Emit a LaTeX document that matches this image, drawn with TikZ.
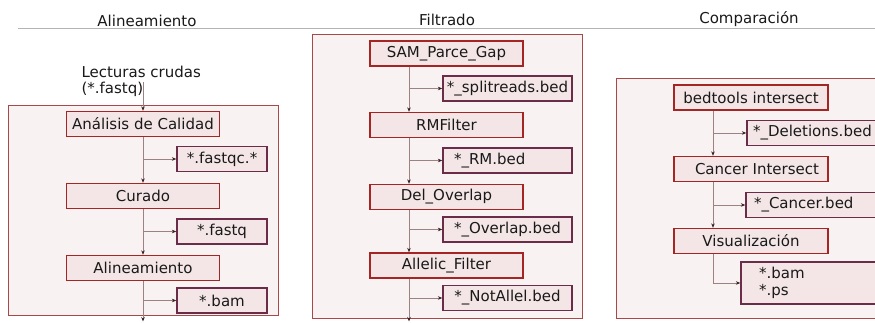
\documentclass[tikz,border=0pt]{standalone}
\usepackage{fontspec}
\setmainfont{DejaVu Sans}
\usetikzlibrary{arrows.meta}
\definecolor{panelfill}{HTML}{F8F2F2}
\definecolor{panelline}{HTML}{A84848}
\definecolor{procfill}{HTML}{F4E6E6}
\definecolor{procline}{HTML}{A52525}
\definecolor{outline}{HTML}{6B2C4A}
\definecolor{flowline}{HTML}{9C8282}
\definecolor{tipcol}{HTML}{3A2020}
\definecolor{rulecol}{HTML}{B4B4B4}
\tikzset{
  txt/.style={font=\fontsize{15}{16.5}\selectfont, text=black!90},
  panel/.style={draw=panelline, fill=panelfill, line width=0.9pt},
  procbox/.style={txt, draw=procline, fill=procfill, line width=1.3pt,
    minimum height=25pt, minimum width=153pt, inner sep=0pt},
  outbox/.style={txt, draw=outline, fill=procfill, line width=1.3pt,
    minimum height=25pt, inner sep=0pt},
  flow/.style={draw=flowline, line width=0.9pt,
    -{Stealth[length=4.5pt,width=3.5pt,color=tipcol]}},
}
\begin{document}
\begin{tikzpicture}[x=1pt,y=-1pt]
\useasboundingbox (0,0) rectangle (875,322);

% header rule and stage titles
\coordinate (ruleA) at (18,28.5);
\coordinate (ruleB) at (875,28.5);
\draw[rulecol, line width=1.6pt] (ruleA) -- (ruleB);
\node[txt, anchor=base] (tAli) at (147,26) {Alineamiento};
\node[txt, anchor=base] (tFil) at (447,25.5) {Filtrado};
\node[txt, anchor=base] (tCom) at (749,23.5) {Comparación};

% panels
\draw[panel] (8,105) rectangle (278,315);
\draw[panel] (312,34) rectangle (582,318);
\draw[panel] (616,78) rectangle (890,318);

% ---- Alineamiento ----
\coordinate (Lx) at (143,0);
\node[txt, anchor=base west, align=left] (raw) at (78,93.5) {Lecturas crudas\\\relax(*.fastq)};
\coordinate (rawout) at (143,82);
\node[procbox] (ana) at (143,124) {Análisis de Calidad};
\node[outbox, minimum width=90pt] (fqc) at (222,159) {*.fastqc.*};
\node[procbox] (cur) at (143,196) {Curado};
\node[outbox, minimum width=90pt] (fq) at (222,231.5) {*.fastq};
\node[procbox] (ali) at (143,268) {Alineamiento};
\node[outbox, minimum width=90pt] (bam) at (222,300.5) {*.bam};
\coordinate (Lend) at (143,321.5);

\draw[flow] (rawout) -- (ana.north);
\draw[flow] (ana.south) -- (cur.north);
\draw[flow] (cur.south) -- (ali.north);
\draw[flow] (ali.south) -- (Lend);
\draw[flow] (fqc.west -| Lx) -- (fqc.west);
\draw[flow] (fq.west -| Lx) -- (fq.west);
\draw[flow] (bam.west -| Lx) -- (bam.west);

% ---- Filtrado ----
\coordinate (Mx) at (409,0);
\node[procbox] (sam) at (446.5,53.5) {SAM\_Parce\_Gap};
\node[outbox, minimum width=129pt] (split) at (507.5,88.5) {*\_splitreads.bed};
\node[procbox] (rmf) at (446.5,125) {RMFilter};
\node[outbox, text width=107pt, inner xsep=11pt, align=left] (rmbed) at (507.5,160.5) {*\_RM.bed};
\node[procbox] (del) at (446.5,197) {Del\_Overlap};
\node[outbox, minimum width=129pt] (ovl) at (507.5,229.5) {*\_Overlap.bed};
\node[procbox] (alf) at (446.5,265.5) {Allelic\_Filter};
\node[outbox, minimum width=129pt] (nal) at (507.5,298) {*\_NotAllel.bed};
\coordinate (Mend) at (409,321.5);

\draw[flow] (sam.south -| Mx) -- (rmf.north -| Mx);
\draw[flow] (rmf.south -| Mx) -- (del.north -| Mx);
\draw[flow] (del.south -| Mx) -- (alf.north -| Mx);
\draw[flow] (alf.south -| Mx) -- (Mend);
\draw[flow] (split.west -| Mx) -- (split.west);
\draw[flow] (rmbed.west -| Mx) -- (rmbed.west);
\draw[flow] (ovl.west -| Mx) -- (ovl.west);
\draw[flow] (nal.west -| Mx) -- (nal.west);

% ---- Comparación ----
\coordinate (Rx) at (713,0);
\node[procbox, minimum width=154pt] (bti) at (751,97.5) {bedtools intersect};
\node[outbox, text width=134pt, inner xsep=6pt, align=left] (dels) at (820,133) {*\_Deletions.bed};
\node[procbox, minimum width=154pt] (cis) at (751,169) {\hspace{12pt}Cancer Intersect};
\node[outbox, text width=132pt, inner xsep=8pt, align=left] (canb) at (820,205) {*\_Cancer.bed};
\node[procbox, minimum width=154pt] (vis) at (751,241) {Visualización};
\node[outbox, text width=122pt, inner xsep=18pt, minimum height=42pt, align=left] (bamps) at (820,283) {*.bam\\\relax *.ps};

\draw[flow] (bti.south -| Rx) -- (cis.north -| Rx);
\draw[flow] (cis.south -| Rx) -- (vis.north -| Rx);
\draw[flow] (dels.west -| Rx) -- (dels.west);
\draw[flow] (canb.west -| Rx) -- (canb.west);
\draw[flow] (vis.south -| Rx) |- (bamps.west);
\end{tikzpicture}
\end{document}
